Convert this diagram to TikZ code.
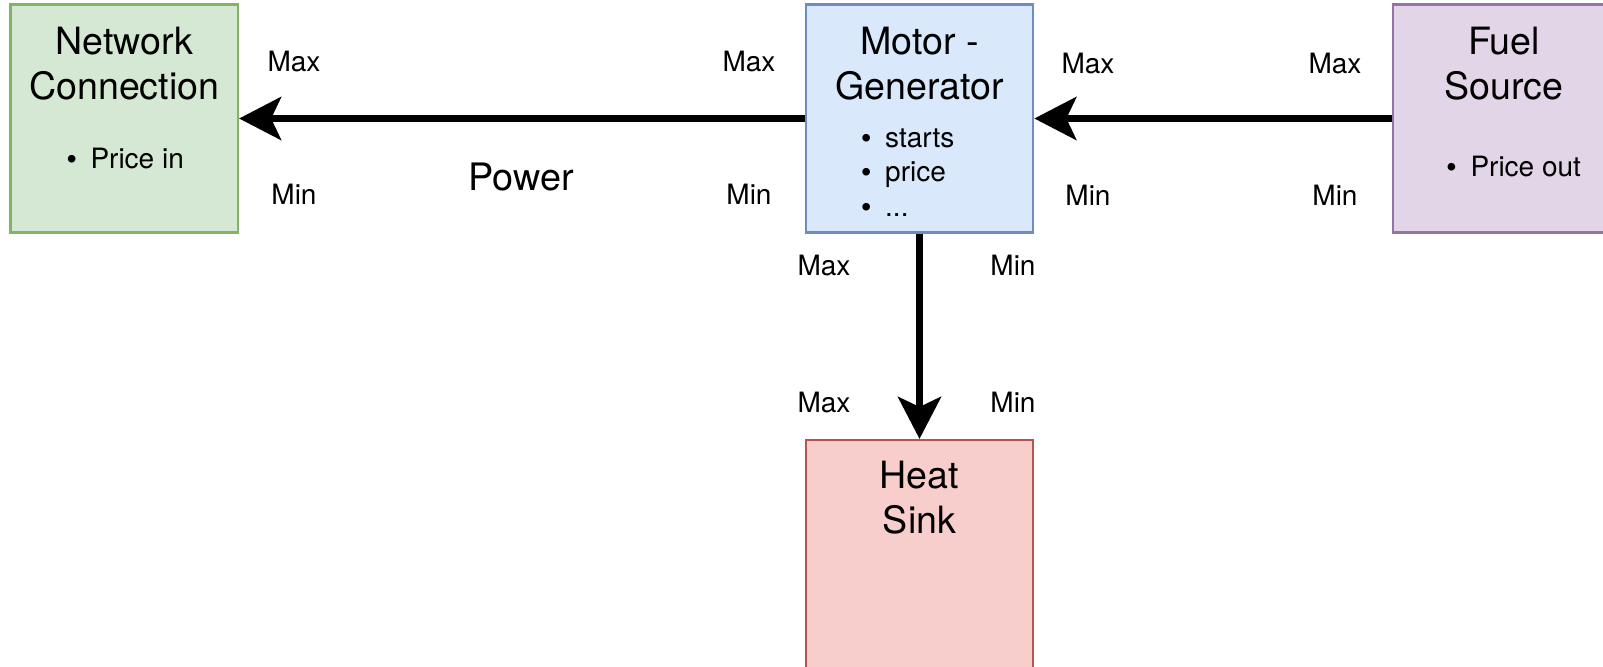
\documentclass[tikz,border=0pt]{standalone}
\usepackage{fontspec}
\setmainfont{TeX Gyre Heros}
\newfontfamily\bulf{Liberation Sans}
\newcommand{\bul}{{\bulf •}}
\usetikzlibrary{arrows.meta}
\definecolor{gfill}{HTML}{D5E8D4}\definecolor{gline}{HTML}{82B366}
\definecolor{bfill}{HTML}{DAE8FC}\definecolor{bline}{HTML}{6C8EBF}
\definecolor{pfill}{HTML}{E1D5E7}\definecolor{pline}{HTML}{9673A6}
\definecolor{rfill}{HTML}{F8CECC}\definecolor{rline}{HTML}{B85450}
\begin{document}
\begin{tikzpicture}[x=0.5pt,y=-0.5pt,
  box/.style={draw, line width=1.1pt, minimum width=113.75pt, minimum height=114pt, inner sep=0pt},
  title/.style={align=center, inner sep=0pt, font=\fontsize{18.8}{22.5}\selectfont},
  blist/.style={align=left, anchor=west, inner sep=0pt, font=\fontsize{14}{17.25}\selectfont},
  lab/.style={inner sep=0pt, font=\fontsize{14}{16}\selectfont},
  flow/.style={line width=3.3pt, -{Stealth[length=21pt, width=21.5pt, inset=5pt]}}]
\useasboundingbox (0,0) rectangle (1603,666);
\clip (0,0) rectangle (1603,666);
\node[box, fill=gfill, draw=gline] (net) at (124.25,118.5) {};
\node[box, fill=bfill, draw=bline] (mg) at (919.5,118.5) {};
\node[box, fill=pfill, draw=pline] (fuel) at (1506.5,118.5) {};
\node[box, fill=rfill, draw=rline] (heat) at (919.5,554) {};
\node[title] (nett) at (124.25,63.5) {Network\\Connection};
\node[title] (mgt) at (919.5,63.5) {Motor -\\Generator};
\node[title] (fuelt) at (1504,63.5) {Fuel\\Source};
\node[title] (heatt) at (919.5,498) {Heat\\Sink};
\node[blist] (netl) at (66.5,158) {\bul\hspace{6.9pt}Price in};
\node[blist] (mgl) at (861,172.25) {\bul\hspace{7pt}starts\\\bul\hspace{7pt}price\\\bul\hspace{7pt}...};
\node[blist] (fuell) at (1446.3,166.6) {\bul\hspace{7pt}Price out};
\draw[flow] (mg) -- (net);
\draw[flow] (fuel) -- (mg);
\draw[flow] (mg) -- (heat);
\node[lab] (l1) at (294,61) {Max};
\node[lab] (l2) at (294,194) {Min};
\node[lab] (l3) at (749,61) {Max};
\node[lab] (l4) at (749,194) {Min};
\node[inner sep=0pt, font=\fontsize{18.9}{22}\selectfont] (pw) at (521,177) {Power};
\node[lab] (l5) at (1088,63) {Max};
\node[lab] (l6) at (1088,195) {Min};
\node[lab] (l7) at (1335,63) {Max};
\node[lab] (l8) at (1335,195) {Min};
\node[lab] (l9) at (824,265) {Max};
\node[lab] (l10) at (1013,265) {Min};
\node[lab] (l11) at (824,402) {Max};
\node[lab] (l12) at (1013,402) {Min};
\end{tikzpicture}
\end{document}
